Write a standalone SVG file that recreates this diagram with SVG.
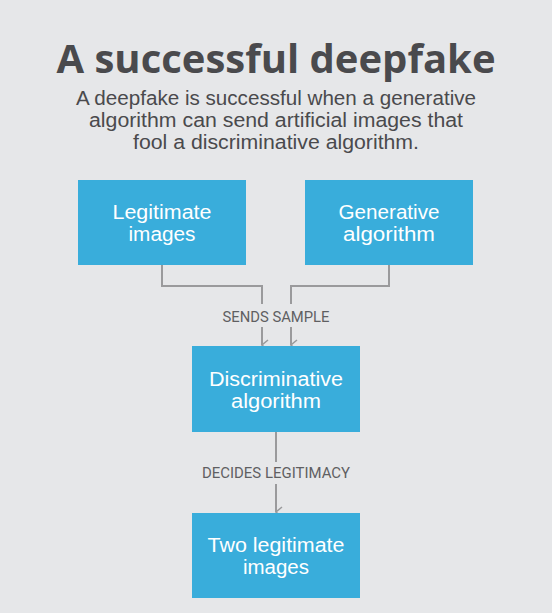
<svg xmlns="http://www.w3.org/2000/svg" width="552" height="613" viewBox="0 0 552 613">
<defs>
<style>
.box{fill:#39addb;}
.bt{font-family:"Liberation Sans",Arial,sans-serif;font-size:19.5px;fill:#ffffff;text-anchor:middle;}
.ln{stroke:#9a9a9c;stroke-width:2;fill:none;}
.lbl{font-family:"Roboto","Liberation Sans",sans-serif;font-size:14px;fill:#5f5f62;text-anchor:middle;}
.sub{font-family:"Liberation Sans",Arial,sans-serif;font-size:19.5px;fill:#4a4a4d;text-anchor:middle;}
</style>
<marker id="ah" viewBox="0 0 12 12" refX="6" refY="11" markerWidth="12" markerHeight="12" markerUnits="userSpaceOnUse" orient="auto-start-reverse">
<path d="M1,5 L6,11 L11,5" fill="none" stroke="#9a9a9c" stroke-width="1.5"/>
</marker>
</defs>
<rect width="552" height="613" fill="#e6e7e9"/>
<text x="276" y="73" font-family="'Open Sans','Liberation Sans',sans-serif" font-weight="bold" font-size="40" fill="#4a4a4d" text-anchor="middle">A successful deepfake</text>
<text class="sub" x="276" y="105" textLength="400" lengthAdjust="spacingAndGlyphs">A deepfake is successful when a generative</text>
<text class="sub" x="276" y="127" textLength="374" lengthAdjust="spacingAndGlyphs">algorithm can send artificial images that</text>
<text class="sub" x="276" y="149" textLength="286" lengthAdjust="spacingAndGlyphs">fool a discriminative algorithm.</text>
<g id="connectors">
<path class="ln" d="M162,265 V286 H262 V304"/>
<path class="ln" d="M389,265 V286 H291 V304"/>
<path class="ln" d="M262,327 V345" marker-end="url(#ah)"/>
<path class="ln" d="M291,327 V345" marker-end="url(#ah)"/>
<text class="lbl" x="276" y="322" textLength="107" lengthAdjust="spacingAndGlyphs">SENDS SAMPLE</text>
<path class="ln" d="M276,432 V462"/>
<path class="ln" d="M276,484 V512" marker-end="url(#ah)"/>
<text class="lbl" x="276" y="478" textLength="148" lengthAdjust="spacingAndGlyphs">DECIDES LEGITIMACY</text>
</g>
<g id="legitimate-images">
<rect class="box" x="78" y="180" width="168" height="85"/>
<text class="bt" x="162" y="219" textLength="99" lengthAdjust="spacingAndGlyphs">Legitimate</text>
<text class="bt" x="162" y="241" textLength="67" lengthAdjust="spacingAndGlyphs">images</text>
</g>
<g id="generative-algorithm">
<rect class="box" x="305" y="180" width="168" height="85"/>
<text class="bt" x="389" y="219" textLength="101" lengthAdjust="spacingAndGlyphs">Generative</text>
<text class="bt" x="389" y="241" textLength="92" lengthAdjust="spacingAndGlyphs">algorithm</text>
</g>
<g id="discriminative-algorithm">
<rect class="box" x="192" y="346" width="168" height="86"/>
<text class="bt" x="276" y="386" textLength="134" lengthAdjust="spacingAndGlyphs">Discriminative</text>
<text class="bt" x="276" y="408" textLength="90" lengthAdjust="spacingAndGlyphs">algorithm</text>
</g>
<g id="two-legitimate-images">
<rect class="box" x="192" y="513" width="168" height="85"/>
<text class="bt" x="276" y="552" textLength="137" lengthAdjust="spacingAndGlyphs">Two legitimate</text>
<text class="bt" x="276" y="574" textLength="66" lengthAdjust="spacingAndGlyphs">images</text>
</g>
</svg>
